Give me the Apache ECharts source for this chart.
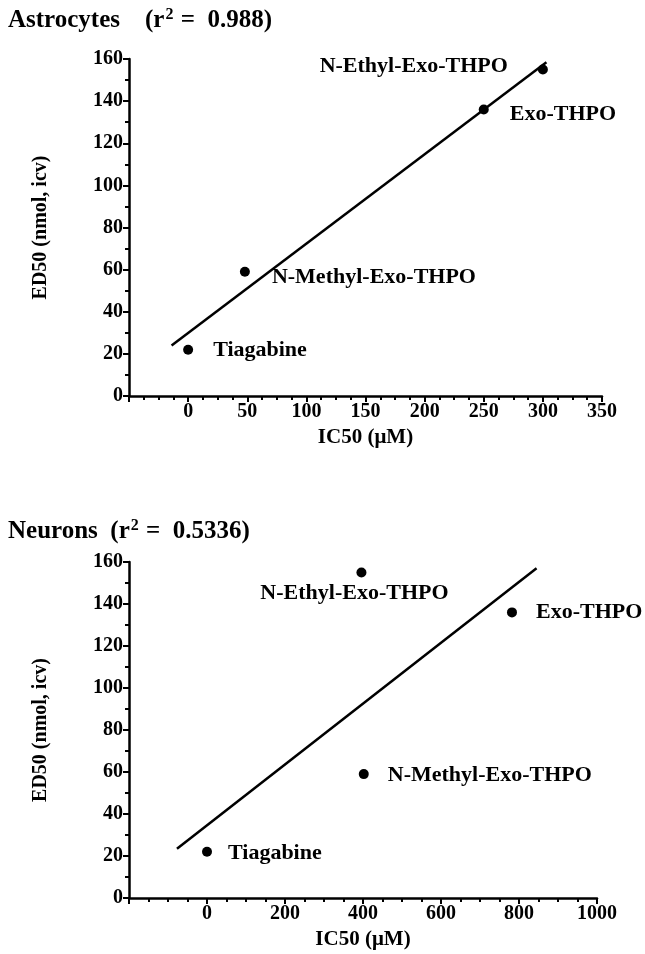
<!DOCTYPE html>
<html>
<head>
<meta charset="utf-8">
<script src="https://cdn.jsdelivr.net/npm/echarts@6/dist/echarts.min.js"></script>
<style>html,body{margin:0;padding:0;background:#fff}#c{width:645px;height:954px}</style>
</head>
<body>
<div id="c"></div>
<script>
// ---- data ----
const compounds = ['Tiagabine', 'N-Methyl-Exo-THPO', 'Exo-THPO', 'N-Ethyl-Exo-THPO'];
const ed50 = [22, 59, 136, 155];
const astroIC50 = [0, 48, 250, 300];
const neuronIC50 = [0, 402, 782, 396];
const astroFit = [[-14, 24], [303, 158.5]];
const neuronFit = [[-77, 23.5], [845, 157]];
const astroTitleParts = ['Astrocytes    (r', '2', ' =  0.988)'];
const neuronTitleParts = ['Neurons  (r', '2', ' =  0.5336)'];
const yAxisName = 'ED50 (nmol, icv)';
const xAxisName = 'IC50 (\u03BCM)';

// ---- styling ----
const FONT = "'Liberation Serif', 'Times New Roman', serif";
const black = '#000';
const astroPlace = {
  'Tiagabine': {position: 'right', distance: 20, offset: [0, 1]},
  'N-Methyl-Exo-THPO': {position: 'right', distance: 22, offset: [0, 6]},
  'Exo-THPO': {position: 'right', distance: 21, offset: [0, 5]},
  'N-Ethyl-Exo-THPO': {position: 'left', distance: 30, offset: [0, -3]}
};
const neuronPlace = {
  'Tiagabine': {position: 'right', distance: 16, offset: [0, 2]},
  'N-Methyl-Exo-THPO': {position: 'right', distance: 19, offset: [0, 1]},
  'Exo-THPO': {position: 'right', distance: 19, offset: [0, 0]},
  'N-Ethyl-Exo-THPO': {position: 'bottom', distance: 5, offset: [-7, 0]}
};

function pts(xs, place) {
  return compounds.map((n, i) => ({
    value: [xs[i], ed50[i]],
    name: n,
    label: Object.assign({show: true, formatter: n}, place[n])
  }));
}

function xAxis(gi, min, max, interval) {
  return {
    type: 'value', gridIndex: gi, min: min, max: max, interval: interval,
    name: xAxisName, nameLocation: 'middle', nameGap: 31,
    nameTextStyle: {fontFamily: FONT, fontWeight: 'bold', fontSize: 21, color: black},
    axisLine: {onZero: false, lineStyle: {color: black, width: 2.5}},
    axisTick: {show: true, inside: false, length: 6, lineStyle: {color: black, width: 2}},
    minorTick: {show: true, splitNumber: 4, length: 4, lineStyle: {color: black, width: 2}},
    splitLine: {show: false},
    axisLabel: {showMinLabel: false, margin: 6, fontFamily: FONT, fontWeight: 'bold', fontSize: 20, color: black,
      formatter: v => String(v)}
  };
}
function yAxis(gi) {
  return {
    type: 'value', gridIndex: gi, min: 0, max: 160, interval: 20,
    name: yAxisName, nameLocation: 'middle', nameGap: 78, nameRotate: 90,
    nameTextStyle: {fontFamily: FONT, fontWeight: 'bold', fontSize: 20, color: black},
    axisLine: {onZero: false, lineStyle: {color: black, width: 2.5}},
    axisTick: {show: true, inside: false, length: 6, lineStyle: {color: black, width: 2}},
    minorTick: {show: true, splitNumber: 2, length: 4, lineStyle: {color: black, width: 2}},
    splitLine: {show: false},
    axisLabel: {margin: 6, fontFamily: FONT, fontWeight: 'bold', fontSize: 20, color: black,
      formatter: v => String(v)}
  };
}
const labelStyle = {fontFamily: FONT, fontWeight: 'bold', fontSize: 22, color: black};
function titleText(p) { return '{a|' + p[0] + '}{s|' + p[1] + '}{a|' + p[2] + '}'; }
const titleRich = {
  a: {fontFamily: FONT, fontWeight: 'bold', fontSize: 25, color: black},
  s: {fontFamily: FONT, fontWeight: 'bold', fontSize: 16, color: black, padding: [0, 1, 12, 1]}
};

const option = {
  backgroundColor: '#fff',
  animation: false,
  title: [
    {text: titleText(astroTitleParts), left: 3, top: 2, textStyle: {rich: titleRich}},
    {text: titleText(neuronTitleParts), left: 3, top: 513, textStyle: {rich: titleRich}}
  ],
  grid: [
    {left: 129, top: 59, width: 473, height: 337},
    {left: 129, top: 562, width: 468, height: 336}
  ],
  xAxis: [xAxis(0, -50, 350, 50), xAxis(1, -200, 1000, 200)],
  yAxis: [yAxis(0), yAxis(1)],
  series: [
    {type: 'line', xAxisIndex: 0, yAxisIndex: 0, data: astroFit, symbol: 'none',
     lineStyle: {color: black, width: 2.5}, z: 2},
    {type: 'scatter', xAxisIndex: 0, yAxisIndex: 0, data: pts(astroIC50, astroPlace),
     symbol: 'circle', symbolSize: 10, itemStyle: {color: black, opacity: 1}, label: labelStyle, z: 3},
    {type: 'line', xAxisIndex: 1, yAxisIndex: 1, data: neuronFit, symbol: 'none',
     lineStyle: {color: black, width: 2.5}, z: 2},
    {type: 'scatter', xAxisIndex: 1, yAxisIndex: 1, data: pts(neuronIC50, neuronPlace),
     symbol: 'circle', symbolSize: 10, itemStyle: {color: black, opacity: 1}, label: labelStyle, z: 3}
  ]
};
const chart = echarts.init(document.getElementById('c'), null, {renderer: 'canvas'});
chart.setOption(option);
</script>
</body>
</html>
